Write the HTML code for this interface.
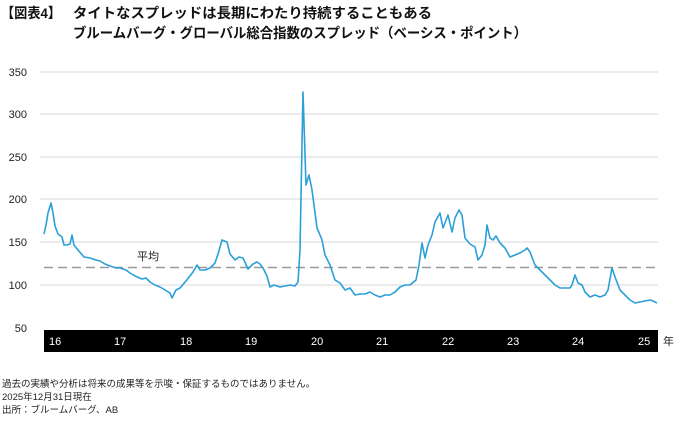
<!DOCTYPE html><html><head><meta charset="utf-8"><style>
body{margin:0;background:#fff;width:675px;height:416px;overflow:hidden;font-family:"Liberation Sans","Noto Sans CJK JP",sans-serif}
</style></head><body>
<svg width="675" height="416" xmlns="http://www.w3.org/2000/svg" style="font-family:'Liberation Sans','Noto Sans CJK JP',sans-serif">
<text x="1" y="18" font-size="14" font-weight="bold" fill="#111" textLength="60" lengthAdjust="spacingAndGlyphs">【図表4】</text>
<text x="73" y="18" font-size="14" font-weight="bold" fill="#111" textLength="359" lengthAdjust="spacingAndGlyphs">タイトなスプレッドは長期にわたり持続することもある</text>
<text x="73" y="38" font-size="14" font-weight="bold" fill="#111" textLength="454" lengthAdjust="spacingAndGlyphs">ブルームバーグ・グローバル総合指数のスプレッド（ベーシス・ポイント）</text>
<g stroke="#d9d9d9" stroke-width="1">
<line x1="40" x2="658" y1="72" y2="72"/><line x1="40" x2="658" y1="114" y2="114"/><line x1="40" x2="658" y1="157" y2="157"/><line x1="40" x2="658" y1="199" y2="199"/><line x1="40" x2="658" y1="242" y2="242"/><line x1="40" x2="658" y1="285" y2="285"/>
</g>
<g font-size="11" fill="#222" text-anchor="end">
<text x="27" y="76">350</text><text x="27" y="118">300</text><text x="27" y="161">250</text><text x="27" y="203">200</text><text x="27" y="246">150</text><text x="27" y="289">100</text><text x="27" y="332">50</text>
</g>
<line x1="44" x2="658" y1="267.5" y2="267.5" stroke="#999" stroke-width="1.5" stroke-dasharray="9,5"/>
<text x="137" y="260" font-size="11" fill="#222">平均</text>
<polyline fill="none" stroke="#2a9fd8" stroke-width="1.6" stroke-linejoin="round" points="44,234 46,225 48,213 51,203 53,213 55,226 58,234 62,237 64,245 67,245 70,244 72,235 74,245 78,250 84,257 90,258 96,260 100,261 105,264 110,266 116,268 120,268 126,270 130,273 135,276 142,279 146,278 150,282 155,285 160,287 165,290 170,293 172,298 176,290 180,288 186,281 193,272 197,265 200,270 205,270 210,268 215,263 218,254 222,240 227,242 230,254 235,260 239,257 243,258 248,269 253,264 257,262 260,264 263,268 267,276 270,287 274,285 280,287 290,285 295,286 298,282 300,250 303,92 306,185 309,175 312,190 314,205 317,228 320,235 322,240 325,255 330,265 335,280 340,283 345,290 350,288 355,295 360,294 365,294 370,292 375,295 380,297 385,295 390,295 395,292 400,287 405,285 410,285 416,280 419,265 422,243 425,258 428,245 432,235 435,222 440,213 443,228 448,215 452,232 455,218 459,210 462,215 465,238 470,244 475,247 478,260 482,255 485,245 487,225 490,238 493,240 496,236 500,243 505,248 510,257 515,255 520,253 525,250 527,248 530,252 535,265 540,270 545,275 550,280 555,285 560,288 565,288 570,288 572,285 575,275 578,283 582,285 585,292 590,297 595,295 600,297 605,295 608,290 612,268 615,277 620,290 625,295 630,300 635,303 640,302 645,301 650,300 653,301 657,303"/>
<rect x="44" y="330" width="614" height="22" fill="#000"/>
<g font-size="11" fill="#fff">
<text x="49" y="345">16</text><text x="114" y="345">17</text><text x="180" y="345">18</text><text x="245" y="345">19</text><text x="311" y="345">20</text><text x="376" y="345">21</text><text x="442" y="345">22</text><text x="507" y="345">23</text><text x="572" y="345">24</text><text x="638" y="345">25</text>
</g>
<text x="663" y="345" font-size="11" fill="#222">年</text>
<g font-size="9.5" fill="#222">
<text x="2" y="387">過去の実績や分析は将来の成果等を示唆・保証するものではありません。</text>
<text x="2" y="400">2025年12月31日現在</text>
<text x="2" y="413">出所：ブルームバーグ、AB</text>
</g>
</svg>
</body></html>
